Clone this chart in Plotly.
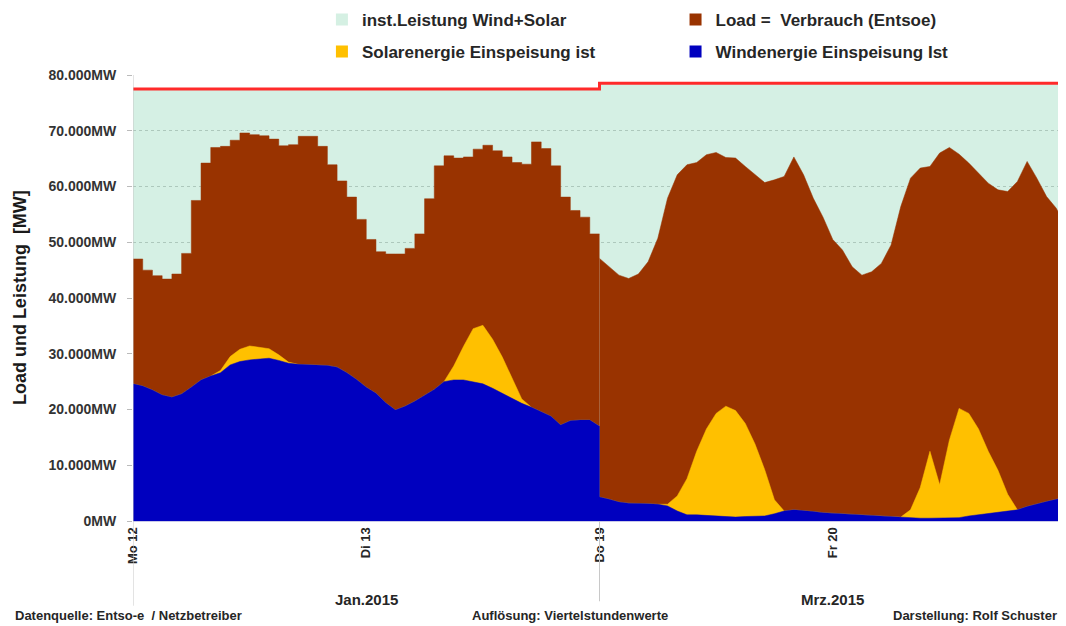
import plotly.graph_objects as go

# hours from Mon 12 Jan 00:00; 0-48 = 12./13. Jan, 48-96 = 19./20. Mar (2015)
jan_hours = list(range(0, 49))
mar_hours = list(range(48, 97))

# load, hourly values (MW), January shown as hourly steps
jan_load = [47000, 45000, 44000, 43400, 44300, 48000, 57500, 64200, 67000, 67200,
            68300, 69600, 69300, 69100, 68500, 67300, 67500, 69000, 69000, 67200,
            63900, 61000, 58100, 54100, 50500, 48300, 47900, 47900, 48900, 51500,
            57800, 63700, 65500, 65100, 65300, 66700, 67400, 66400, 65300, 64300,
            64000, 68000, 66800, 63700, 58100, 55700, 54500, 51500]
mar_load = [47100, 45600, 44100, 43500, 44300, 46500, 50700, 57900, 62100, 63900,
            64300, 65700, 66100, 65200, 65100, 63600, 62100, 60700, 61200, 61800,
            65300, 62100, 57900, 54500, 50500, 48600, 45600, 44100, 44700, 46200,
            49500, 56400, 61500, 63300, 63600, 66000, 67000, 65800, 64200, 62400,
            60600, 59400, 59100, 60900, 64500, 61500, 58200, 56100, 52800]

jan_wind = [24600, 24200, 23500, 22600, 22200, 22800, 24000, 25300, 26000, 26600,
            28000, 28600, 28900, 29000, 29200, 28800, 28300, 28100, 28000, 28000,
            27900, 27600, 26600, 25400, 24000, 22900, 21200, 19900, 20600, 21500,
            22600, 23600, 25000, 25300, 25300, 25000, 24600, 23800, 22900, 22000,
            21100, 20400, 19600, 18800, 17200, 18000, 18100, 18100, 17000]
mar_wind = [4300, 3900, 3400, 3200, 3200, 3100, 3000, 2700, 1800, 1100,
            1100, 1000, 900, 800, 700, 800, 800, 900, 1300, 1800,
            2000, 1900, 1700, 1500, 1400, 1300, 1100, 1000, 900, 800,
            800, 700, 600, 500, 500, 500, 500, 600, 900, 1100,
            1300, 1500, 1700, 2000, 2600, 3100, 3500, 3900, 4300]

jan_solar = [0, 0, 0, 0, 0, 0, 0, 0, 0, 400,
             1500, 2200, 2500, 2100, 1700, 1000, 200, 0, 0, 0,
             0, 0, 0, 0, 0, 0, 0, 0, 0, 0,
             0, 0, 0, 2500, 6000, 9500, 10500, 8800, 6500, 3500,
             800, 0, 0, 0, 0, 0, 0, 0, 0]
mar_solar = [0, 0, 0, 0, 0, 0, 0, 300, 2700, 6500,
             11400, 15500, 18400, 19800, 19100, 16700, 13000, 8300, 2500, 0,
             0, 0, 0, 0, 0, 0, 0, 0, 0, 0,
             0, 0, 1400, 5500, 12000, 6000, 14000, 19600, 18400, 15400,
             11200, 7600, 3100, 0, 0, 0, 0, 0, 0]

jan_installed = 77500
mar_installed = 78500

tick_hours = [0, 24, 48, 72]
tick_labels = ['Mo 12', 'Di 13', 'Do 19', 'Fr 20']

hours = jan_hours + mar_hours
wind = jan_wind + mar_wind
solar = jan_solar + mar_solar
wind_solar = [w + s for w, s in zip(wind, solar)]
installed = [jan_installed] * len(jan_hours) + [mar_installed] * len(mar_hours)

MINT = 'rgba(150,218,188,0.4)'
BROWN = '#993300'
YELLOW = '#FFC000'
BLUE = '#0000BF'
RED = '#FF2A2A'
FONT = 'Liberation Sans Narrow, Liberation Sans, Arial, sans-serif'

fig = go.Figure()

fig.add_trace(go.Scatter(
    x=hours, y=installed, fill='tozeroy', fillcolor=MINT,
    line=dict(color=RED, width=3), mode='lines', showlegend=False, hoverinfo='skip'))
fig.add_trace(go.Scatter(
    x=jan_hours, y=jan_load + [jan_load[-1]], fill='tozeroy', fillcolor=BROWN,
    line=dict(color=BROWN, width=0.5, shape='hv'), mode='lines', showlegend=False))
fig.add_trace(go.Scatter(
    x=mar_hours, y=mar_load, fill='tozeroy', fillcolor=BROWN,
    line=dict(color=BROWN, width=0.5), mode='lines', showlegend=False))
fig.add_trace(go.Scatter(
    x=hours, y=wind_solar, fill='tozeroy', fillcolor=YELLOW,
    line=dict(color=YELLOW, width=0.5), mode='lines', showlegend=False))
fig.add_trace(go.Scatter(
    x=hours, y=wind, fill='tozeroy', fillcolor=BLUE,
    line=dict(color=BLUE, width=0.5), mode='lines', showlegend=False))

# legend entries (square swatches like the original)
legend_items = [
    ('inst.Leistung Wind+Solar', '#d5f0e3', 'legend'),
    ('Solarenergie Einspeisung ist', YELLOW, 'legend'),
    ('Load =  Verbrauch (Entsoe)', BROWN, 'legend2'),
    ('Windenergie Einspeisung Ist', BLUE, 'legend2'),
]
for i, (name, color, leg) in enumerate(legend_items):
    fig.add_trace(go.Scatter(
        x=[None], y=[None], mode='markers', name=name, legend=leg,
        legendgroup=str(i),
        marker=dict(symbol='square', size=12, color=color)))

legend_style = dict(
    orientation='v', yanchor='top', xanchor='left', y=1.164,
    font=dict(family=FONT, size=17, color='#262626', weight='bold'),
    bgcolor='rgba(0,0,0,0)', itemwidth=30, tracegroupgap=7)

# the page body adds an 8px offset, so the figure is 8px smaller than the window
fig.update_layout(
    width=1058, height=618,
    margin=dict(l=125, r=0, t=67, b=105, autoexpand=False),
    paper_bgcolor='white', plot_bgcolor='white',
    separators=',.',
    font=dict(family=FONT, color='#333333'),
    legend=dict(x=0.2025, **legend_style),
    legend2=dict(x=0.5815, **legend_style),
    xaxis=dict(
        range=[0, 96], tickvals=tick_hours, ticktext=tick_labels, tickangle=-90,
        showgrid=False, zeroline=False, showline=True, linecolor='#c8c8e8',
        tickfont=dict(family=FONT, size=13, color='#262626', weight='bold')),
    yaxis=dict(
        range=[0, 80000], dtick=10000, tickformat=',d', ticksuffix='MW',
        showgrid=True, gridcolor='#bdbdbd', griddash='dot', gridwidth=1,
        zeroline=False, showline=False, ticks='outside', ticklen=5,
        tickcolor='#bbbbbb', ticklabelstandoff=8,
        tickfont=dict(family=FONT, size=14, color='#333333', weight='bold')),
)

# axis separators below the plot
fig.add_shape(type='line', xref='x', yref='paper', x0=0, x1=0, y0=-0.19, y1=1,
              line=dict(color='#c8c8c8', width=1))
fig.add_shape(type='line', xref='x', yref='paper', x0=48, x1=48, y0=-0.18, y1=0,
              line=dict(color='#c8c8c8', width=1))

fig.add_annotation(text='Load und Leistung  [MW]', xref='paper', yref='paper',
                   x=-0.121, y=0.5, xanchor='center', yanchor='middle',
                   textangle=-90, showarrow=False,
                   font=dict(family=FONT, size=18, color='#1a1a1a', weight='bold'))
month_font = dict(family=FONT, size=15, color='#262626', weight='bold')
fig.add_annotation(text='Jan.2015', xref='x', yref='paper', x=24, y=-0.175,
                   xanchor='center', yanchor='middle', showarrow=False,
                   font=month_font)
fig.add_annotation(text='Mrz.2015', xref='x', yref='paper', x=72, y=-0.175,
                   xanchor='center', yanchor='middle', showarrow=False,
                   font=month_font)

footer = dict(family=FONT, size=13, color='#262626', weight='bold')
fig.add_annotation(text='Datenquelle: Entso-e  / Netzbetreiber', xref='paper',
                   yref='paper', x=-0.129, y=-0.213, xanchor='left',
                   yanchor='middle', showarrow=False, font=footer)
fig.add_annotation(text='Auflösung: Viertelstundenwerte', xref='paper',
                   yref='paper', x=0.361, y=-0.213, xanchor='left',
                   yanchor='middle', showarrow=False, font=footer)
fig.add_annotation(text='Darstellung: Rolf Schuster', xref='paper',
                   yref='paper', x=0.993, y=-0.213, xanchor='right',
                   yanchor='middle', showarrow=False, font=footer)

fig.write_html('out.html')
